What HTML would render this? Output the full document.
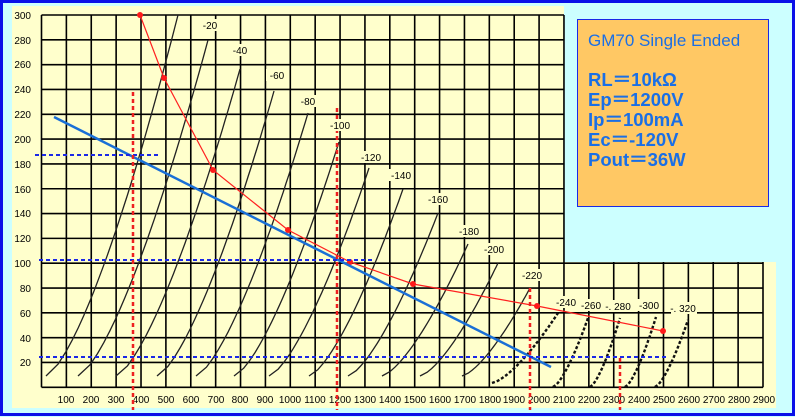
<!DOCTYPE html>
<html><head><meta charset="utf-8"><style>
html,body{margin:0;padding:0;}
body{width:795px;height:417px;overflow:hidden;background:#ccffff;font-family:"Liberation Sans",sans-serif;}
</style></head><body>
<svg id="s" width="795" height="417" viewBox="0 0 795 417" xmlns="http://www.w3.org/2000/svg" style="position:absolute;left:0;top:0">
<rect x="1.5" y="1.5" width="792" height="413" fill="#ccffff" stroke="#0a10e8" stroke-width="3"/>
<rect x="12" y="6" width="552" height="402" fill="#ffffcc"/>
<rect x="564" y="262" width="212" height="146" fill="#ffffcc"/>
<g id="grid" stroke="#000" stroke-width="1.6"></g>
<g id="curves" fill="none" stroke="#222" stroke-width="1.3"></g>
<g font-size="10" fill="#000" text-anchor="end">
<text x="31" y="19">300</text><text x="31" y="44">280</text><text x="31" y="68">260</text><text x="31" y="93">240</text><text x="31" y="118">220</text><text x="31" y="143">200</text><text x="31" y="168">180</text><text x="31" y="193">160</text><text x="31" y="217">140</text><text x="31" y="242">120</text><text x="31" y="267">100</text><text x="31" y="292">80</text><text x="31" y="317">60</text><text x="31" y="342">40</text><text x="31" y="366">20</text>
</g>
<g font-size="10" fill="#000" text-anchor="middle">
<text x="66" y="403">100</text><text x="91" y="403">200</text><text x="116" y="403">300</text><text x="141" y="403">400</text><text x="166" y="403">500</text><text x="191" y="403">600</text><text x="216" y="403">700</text><text x="240" y="403">800</text><text x="265" y="403">900</text><text x="290" y="403">1000</text><text x="315" y="403">1100</text><text x="340" y="403">1200</text><text x="365" y="403">1300</text><text x="390" y="403">1400</text><text x="415" y="403">1500</text><text x="440" y="403">1600</text><text x="465" y="403">1700</text><text x="490" y="403">1800</text><text x="514" y="403">1900</text><text x="539" y="403">2000</text><text x="564" y="403">2100</text><text x="589" y="403">2200</text><text x="614" y="403">2300</text><text x="639" y="403">2400</text><text x="664" y="403">2500</text><text x="689" y="403">2600</text><text x="714" y="403">2700</text><text x="739" y="403">2800</text><text x="764" y="403">2900</text>
</g>
<g font-size="10" fill="#000" text-anchor="middle" id="lbl">
<rect x="199" y="19" width="22" height="12" fill="#ffffcc"/><text x="210" y="29">-20</text>
<rect x="229" y="44" width="22" height="12" fill="#ffffcc"/><text x="240" y="54">-40</text>
<rect x="266" y="69" width="22" height="12" fill="#ffffcc"/><text x="277" y="79">-60</text>
<rect x="297" y="95" width="22" height="12" fill="#ffffcc"/><text x="308" y="105">-80</text>
<rect x="330" y="119" width="24" height="12" fill="#ffffcc"/><text x="340" y="129">-100</text>
<rect x="359" y="151" width="24" height="12" fill="#ffffcc"/><text x="371" y="161">-120</text>
<rect x="389" y="169" width="24" height="12" fill="#ffffcc"/><text x="401" y="179">-140</text>
<rect x="426" y="193" width="24" height="12" fill="#ffffcc"/><text x="438" y="203">-160</text>
<rect x="457" y="225" width="24" height="12" fill="#ffffcc"/><text x="469" y="235">-180</text>
<rect x="482" y="243" width="24" height="12" fill="#ffffcc"/><text x="494" y="253">-200</text>
<rect x="520" y="269" width="24" height="12" fill="#ffffcc"/><text x="532" y="279">-220</text>
<rect x="554" y="296" width="24" height="12" fill="#ffffcc"/><text x="566" y="306">-240</text>
<rect x="579" y="299" width="24" height="12" fill="#ffffcc"/><text x="591" y="309">-260</text>
<rect x="606" y="300" width="26" height="12" fill="#ffffcc"/><text x="618" y="310">-. 280</text>
<rect x="637" y="299" width="24" height="12" fill="#ffffcc"/><text x="649" y="309">-300</text>
<rect x="671" y="302" width="26" height="12" fill="#ffffcc"/><text x="683" y="312">-. 320</text>
</g>
<g id="dashed" fill="none" stroke="#111" stroke-width="2.4" stroke-dasharray="3 2"></g>
<polyline points="140,15 164,78 213,170 288,230 350,262 413,284 537,306 663,331" fill="none" stroke="#ff2020" stroke-width="1.2"/>
<g fill="#ff1a1a"><circle cx="140" cy="15" r="3"/><circle cx="164" cy="78" r="3"/><circle cx="213" cy="170" r="3"/><circle cx="288" cy="230" r="3"/><circle cx="350" cy="262" r="3"/><circle cx="413" cy="284" r="3"/><circle cx="537" cy="306" r="3"/><circle cx="663" cy="331" r="3"/></g>
<line x1="54" y1="117" x2="551" y2="367" stroke="#1a6fd6" stroke-width="2.5"/>
<g stroke="#1a28e6" stroke-width="2" stroke-dasharray="4 3">
<line x1="35" y1="155" x2="159" y2="155"/>
<line x1="39" y1="260" x2="372" y2="260"/>
<line x1="39" y1="357" x2="669" y2="357"/>
</g>
<g stroke="#ee2020" stroke-width="2.5" stroke-dasharray="4 3">
<line x1="133" y1="92" x2="133" y2="410"/>
<line x1="337" y1="108" x2="337" y2="410"/>
<line x1="530" y1="288" x2="530" y2="410"/>
<line x1="620" y1="358" x2="620" y2="410"/>
</g>
<rect x="577.5" y="19.5" width="191" height="187" fill="#ffc864" stroke="#1a28e6" stroke-width="1"/>
<g fill="#1a6fe6" font-family="'Liberation Sans',sans-serif">
<text x="588" y="46" font-size="17">GM70 Single Ended</text>
<g font-size="18.5" font-weight="bold">
<text x="588" y="86">RL＝10kΩ</text>
<text x="588" y="106">Ep＝1200V</text>
<text x="588" y="126">Ip＝100mA</text>
<text x="588" y="146">Ec＝-120V</text>
<text x="588" y="166">Pout＝36W</text>
</g></g>
</svg>
<script>
var NS="http://www.w3.org/2000/svg";
var g=document.getElementById('grid');
function ln(p,x1,y1,x2,y2){var l=document.createElementNS(NS,'line');l.setAttribute('x1',x1);l.setAttribute('y1',y1);l.setAttribute('x2',x2);l.setAttribute('y2',y2);p.appendChild(l);}
var x0=41.5,dx=(763-41.5)/29,yb=387.3,dy=(387.3-15)/15;
for(var i=0;i<=29;i++){var x=x0+i*dx;ln(g,x,x>565?262:15,x,yb);}
for(var j=0;j<=15;j++){var y=yb-j*dy;ln(g,x0,y,y<262?564:763,y);}
function curve(p,xs,ys,xe,ye){var d='';for(var k=0;k<=30;k++){var t=k/30;var y=ys+(ye-ys)*t;var x=xs+(xe-xs)*Math.pow(t,0.7);d+=(k?'L':'M')+x.toFixed(1)+','+y.toFixed(1);}var e=document.createElementNS(NS,'path');e.setAttribute('d',d);p.appendChild(e);}
var c=document.getElementById('curves');
var S=[[46,178,15],[78,208,40],[116,240,69],[157,274,91],[196,308,113],[234,339,142],[269,369,168],[309,403,189],[348,438,213],[382,468,244],[420,498,263],[462,530,288]];
S.forEach(function(a){curve(c,a[0],376,a[1],a[2]);});
var dg=document.getElementById('dashed');
var D=[[492,383,558,313],[553,387,588,318],[590,387,620,318],[625,387,656,317],[655,387,688,320]];
D.forEach(function(a){curve(dg,a[0],a[1],a[2],a[3]);});
document.getElementById('s').appendChild(document.getElementById('lbl'));
</script>
</body></html>
